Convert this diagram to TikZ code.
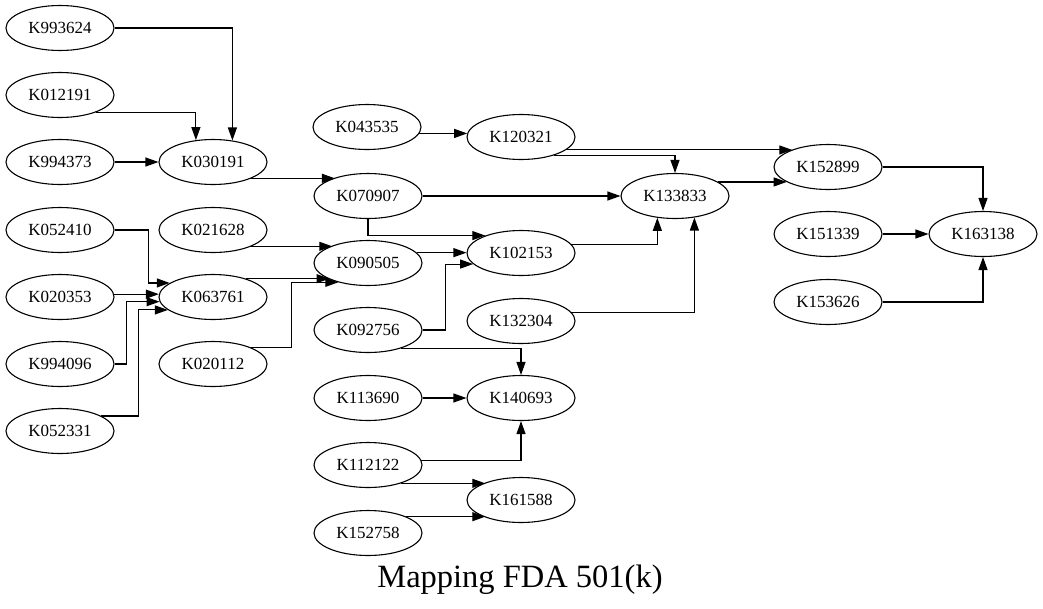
\documentclass[tikz,border=0pt]{standalone}
\usepackage{fontspec}
\setmainfont{Liberation Serif}
\usetikzlibrary{shapes.geometric,arrows.meta}
\tikzset{
  knode/.style={draw, ellipse, line width=1.1pt, minimum width=108pt, minimum height=45pt, inner sep=0pt, font=\fontsize{17}{20}\selectfont},
  link/.style={-{Triangle[length=13pt,width=9pt]}, line width=1.1pt}
}
\begin{document}
\begin{tikzpicture}[x=1pt,y=-1pt]
\useasboundingbox (0,0) rectangle (1043,608);
% nodes, one column after the other
\foreach \kid/\x/\y in {K993624/60/28, K012191/60/95, K994373/60/162, K052410/60/230, K020353/60/297, K994096/60/364, K052331/60/431,
  K030191/213/162, K021628/213/230, K063761/213/297, K020112/213/364,
  K043535/367/127, K070907/368/196, K090505/368/263, K092756/368/330, K113690/368/398, K112122/368/465, K152758/368/533,
  K120321/521/137, K102153/521/253, K132304/521/321, K140693/521/398, K161588/521/500,
  K133833/675/196,
  K152899/828/167, K151339/828/234, K153626/828/302,
  K163138/983/234}
  \node[knode] (\kid) at (\x,\y) {\kid};
% straight links, kept level
\foreach \a/\b in {K994373.east/K030191.west, K030191.-23/K070907.151, K020353.3/K063761.177,
  K021628.-23/K090505.154, K063761.29/K090505.203, K070907.east/K133833.west, K090505.12/K102153.west,
  K120321.-16/K152899.154, K133833.18/K152899.200, K151339.east/K163138.west, K043535.-7/K120321.176,
  K113690.east/K140693.west, K112122.-29/K161588.154, K152758.23/K161588.206}
  \draw[link] (\a) -- (\a -| \b);
% links with corners
\draw[link] (K993624.east) -| (K030191.48);
\draw[link] (K012191.-26) -| (K030191.128);
\draw[link] (K052410.east) -- ++(34,0) |- (K063761.162);
\draw[link] (K994096.east) -- ++(12,0) |- (K063761.185);
\draw[link] (K052331.20) -- ++(37,0) |- (K063761.196);
\draw[link] (K020112.23) -- ++(40,0) |- (K090505.213);
\draw[link] (K070907.south) |- (K102153.154);
\draw[link] (K092756.east) -- ++(23,0) |- (K102153.193);
\draw[link] (K102153.10) -| (K133833.231);
\draw[link] (K132304.10) -| (K133833.-48);
\draw[link] (K120321.-29) -| (K133833.north);
\draw[link] (K092756.-29) -| (K140693.north);
\draw[link] (K112122.5) -| (K140693.south);
\draw[link] (K152899.east) -| (K163138.north);
\draw[link] (K153626.east) -| (K163138.south);
% caption
\node[font=\fontsize{32.5}{36}\selectfont, anchor=base] (title) at (520,587) {Mapping FDA 501(k)};
\end{tikzpicture}
\end{document}
